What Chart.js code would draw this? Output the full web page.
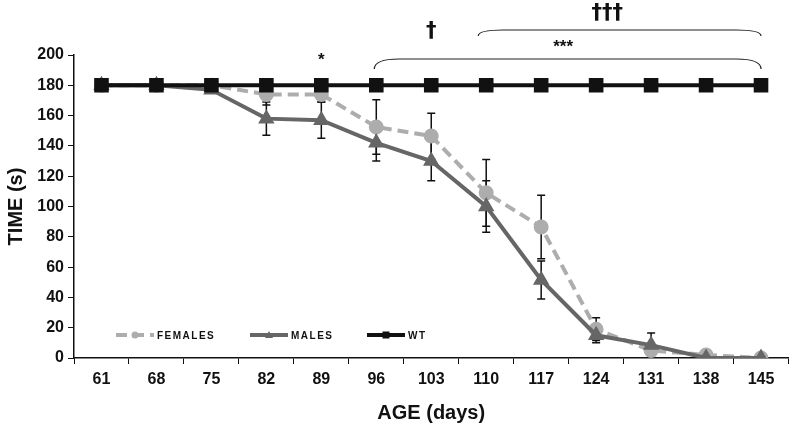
<!DOCTYPE html>
<html>
<head>
<meta charset="utf-8">
<script src="https://cdn.jsdelivr.net/npm/chart.js@4"></script>
<style>
  html, body { margin: 0; padding: 0; background: #fff; }
  #wrap { width: 800px; height: 429px; position: relative; }
</style>
</head>
<body>
<div id="wrap"><canvas id="c"></canvas></div>
<script>
const ages = ['61', '68', '75', '82', '89', '96', '103', '110', '117', '124', '131', '138', '145'];
const females = [180, 180, 180, 174, 174, 152.5, 146.5, 109, 86.5, 19, 5, 2, 0];
const femalesErr = [0, 0, 0, 7, 5, 18, 15, 22, 21, 7.5, 3, 0, 0];
const males = [180, 180, 177, 158, 157, 142, 130, 100, 51.5, 15, 8.5, 0, 0];
const malesErr = [0, 0, 0, 11, 12, 12, 13, 17, 12.5, 5, 8, 0, 0];
const wt = [180, 180, 180, 180, 180, 180, 180, 180, 180, 180, 180, 180, 180];
const yTicks = [0, 20, 40, 60, 80, 100, 120, 140, 160, 180, 200];

const FONT = '"Liberation Sans", Arial, sans-serif';
const NARROW = '"Liberation Sans Narrow", "Arial Narrow", "Liberation Sans", sans-serif';

// error bars drawn below the lines
const errorBars = {
    id: 'errorBars',
    beforeDatasetsDraw(chart) {
        const ctx = chart.ctx, x = chart.scales.x, y = chart.scales.y;
        ctx.save();
        ctx.strokeStyle = '#111';
        ctx.lineWidth = 1.5;
        [[females, femalesErr], [males, malesErr]].forEach(([vals, errs]) => {
            vals.forEach((v, i) => {
                if (!errs[i]) return;
                const px = x.getPixelForValue(i);
                const top = y.getPixelForValue(v + errs[i]);
                const bot = y.getPixelForValue(v - errs[i]);
                ctx.beginPath();
                ctx.moveTo(px, top); ctx.lineTo(px, bot);
                ctx.moveTo(px - 4, top); ctx.lineTo(px + 4, top);
                ctx.moveTo(px - 4, bot); ctx.lineTo(px + 4, bot);
                ctx.stroke();
            });
        });
        ctx.restore();
    }
};

function brace(ctx, x1, x2, yTop, drop) {
    ctx.beginPath();
    ctx.moveTo(x1, yTop + drop);
    ctx.quadraticCurveTo(x1, yTop, x1 + 25, yTop);
    ctx.lineTo(x2 - 25, yTop);
    ctx.quadraticCurveTo(x2, yTop, x2, yTop + drop);
    ctx.stroke();
}

// significance marks and braces above the plot
const marks = {
    id: 'marks',
    afterDraw(chart) {
        const ctx = chart.ctx, x = chart.scales.x;
        const p = i => x.getPixelForValue(i);
        ctx.save();
        ctx.strokeStyle = '#222';
        ctx.lineWidth = 1.2;
        brace(ctx, p(5) - 2, p(12), 59, 10);
        brace(ctx, p(7) - 8, p(12), 30, 6);
        ctx.fillStyle = '#111';
        ctx.textAlign = 'center';
        ctx.textBaseline = 'middle';
        ctx.font = 'bold 17px ' + FONT;
        ctx.fillText('*', p(4), 60);
        ctx.fillText('***', p(8) + 22, 47);
        ctx.font = 'bold 21px "DejaVu Sans", sans-serif';
        ctx.fillText('†', p(6), 32);
        ctx.fillText('†††', p(9) + 11, 14);
        ctx.restore();
    }
};

// legend drawn inside the plot, bottom left
const legendIn = {
    id: 'legendIn',
    afterDraw(chart) {
        const ctx = chart.ctx, a = chart.chartArea;
        const yy = a.bottom - 23;
        ctx.save();
        ctx.font = 'bold 10px ' + FONT;
        ctx.textBaseline = 'middle';
        ctx.fillStyle = '#111';
        const items = [
            { ds: chart.data.datasets[0], x: a.left + 42, w: 38 },
            { ds: chart.data.datasets[1], x: a.left + 176, w: 38 },
            { ds: chart.data.datasets[2], x: a.left + 293, w: 38 }
        ];
        items.forEach(it => {
            const ds = it.ds;
            ctx.strokeStyle = ds.borderColor;
            ctx.lineWidth = 4;
            ctx.setLineDash(ds.borderDash || []);
            ctx.beginPath();
            ctx.moveTo(it.x, yy); ctx.lineTo(it.x + it.w, yy);
            ctx.stroke();
            ctx.setLineDash([]);
            ctx.fillStyle = ds.pointBackgroundColor;
            const cx = it.x + it.w / 2;
            ctx.beginPath();
            if (ds.pointStyle === 'circle') ctx.arc(cx, yy, 3.5, 0, Math.PI * 2);
            else if (ds.pointStyle === 'triangle') { ctx.moveTo(cx, yy - 4); ctx.lineTo(cx + 4, yy + 3); ctx.lineTo(cx - 4, yy + 3); }
            else ctx.rect(cx - 3.5, yy - 3.5, 7, 7);
            ctx.fill();
            ctx.fillStyle = '#111';
            ctx.letterSpacing = '1.5px';
            ctx.fillText(ds.label, it.x + it.w + 3, yy + 1);
        });
        ctx.restore();
    }
};

new Chart(document.getElementById('c'), {
    type: 'line',
    data: {
        labels: ages,
        datasets: [
            { label: 'FEMALES', data: females, borderColor: '#adadad', backgroundColor: '#adadad',
              pointBackgroundColor: '#adadad', pointBorderColor: '#adadad', borderWidth: 4, borderDash: [11, 6],
              pointStyle: 'circle', pointRadius: 5.5, tension: 0, order: 3 },
            { label: 'MALES', data: males, borderColor: '#666666', backgroundColor: '#666666',
              pointBackgroundColor: '#666666', pointBorderColor: '#666666', borderWidth: 4,
              pointStyle: 'triangle', pointRadius: 5.5, tension: 0, order: 2 },
            { label: 'WT', data: wt, borderColor: '#111111', backgroundColor: '#111111',
              pointBackgroundColor: '#111111', pointBorderColor: '#111111', borderWidth: 4,
              pointStyle: 'rect', pointRadius: 7.5, tension: 0, order: 1 }
        ]
    },
    options: {
        responsive: true,
        maintainAspectRatio: false,
        animation: false,
        layout: { padding: { top: 55, right: 5, left: 0, bottom: 0 } },
        plugins: { legend: { display: false }, tooltip: { enabled: false } },
        scales: {
            x: {
                offset: true,
                grid: { display: true, offset: true, drawOnChartArea: false, tickLength: 6, color: '#111', lineWidth: 1 },
                border: { color: '#111', width: 1.5 },
                ticks: { color: '#111', font: { family: NARROW, size: 16, weight: 'bold' }, padding: 6, maxRotation: 0 },
                title: { display: true, text: 'AGE (days)', color: '#111', font: { family: FONT, size: 20, weight: 'bold' }, padding: { top: 8 } },
                afterFit(s) { s.height = 71; }
            },
            y: {
                min: 0, max: 200,
                afterBuildTicks(s) { s.ticks = yTicks.map(v => ({ value: v })); },
                grid: { display: true, drawOnChartArea: false, tickLength: 6, color: '#111', lineWidth: 1 },
                border: { color: '#111', width: 1.5 },
                ticks: { color: '#111', font: { family: NARROW, size: 16, weight: 'bold' }, padding: 4 },
                title: { display: true, text: 'TIME (s)', color: '#111', font: { family: FONT, size: 20, weight: 'bold' }, padding: { bottom: 4 } },
                afterFit(s) { s.width = 74; }
            }
        }
    },
    plugins: [errorBars, marks, legendIn]
});
</script>
</body>
</html>
